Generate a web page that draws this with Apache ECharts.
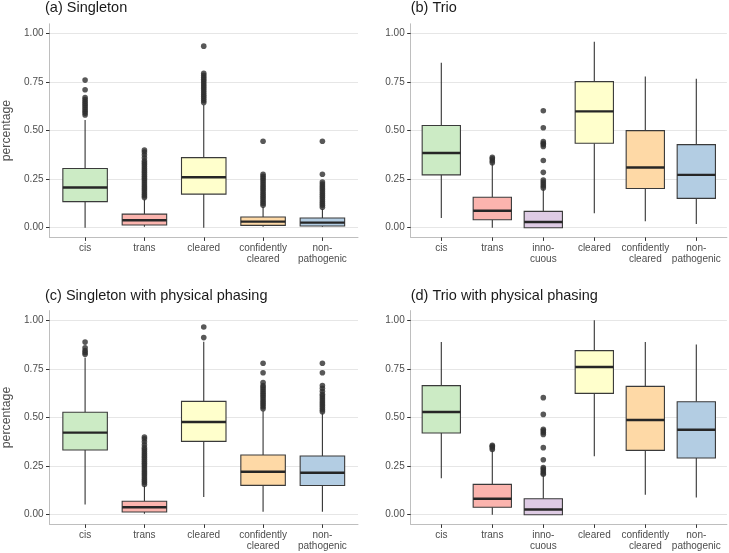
<!DOCTYPE html>
<html><head><meta charset="utf-8">
<script src="https://cdn.jsdelivr.net/npm/echarts@6/dist/echarts.min.js"></script>
<style>html,body{margin:0;padding:0;background:#fff}#c{width:729px;height:553px}</style>
</head><body><div id="c"></div>
<script>
// ---------------- data ----------------
const catsSingleton = ['cis', 'trans', 'cleared', 'confidently\ncleared', 'non-\npathogenic'];
const catsTrio = ['cis', 'trans', 'inno-\ncuous', 'cleared', 'confidently\ncleared', 'non-\npathogenic'];
const yTicks = [0, 0.25, 0.5, 0.75, 1];
const panelTitles = ['(a) Singleton', '(b) Trio', '(c) Singleton with physical phasing', '(d) Trio with physical phasing'];

// boxes: [lower whisker, Q1, median, Q3, upper whisker]
const boxA = [
  [0.000, 0.134, 0.207, 0.305, 0.555],
  [0.005, 0.014, 0.038, 0.070, 0.145],
  [0.000, 0.173, 0.260, 0.361, 0.632],
  [0.005, 0.012, 0.031, 0.055, 0.106],
  [0.005, 0.009, 0.026, 0.050, 0.096]
];
const outA = [
  [0.58, 0.59, 0.60, 0.61, 0.62, 0.63, 0.64, 0.65, 0.66, 0.67, 0.71, 0.76],
  [0.155, 0.165, 0.175, 0.185, 0.195, 0.205, 0.215, 0.225, 0.235, 0.245, 0.255, 0.265, 0.275, 0.285, 0.295, 0.305, 0.315, 0.325, 0.335, 0.345, 0.36, 0.375, 0.39, 0.40],
  [0.645, 0.655, 0.665, 0.675, 0.685, 0.695, 0.705, 0.715, 0.725, 0.735, 0.745, 0.755, 0.765, 0.775, 0.785, 0.795, 0.935],
  [0.115, 0.125, 0.135, 0.145, 0.155, 0.165, 0.175, 0.185, 0.195, 0.205, 0.215, 0.225, 0.235, 0.245, 0.255, 0.265, 0.275, 0.445],
  [0.105, 0.115, 0.125, 0.135, 0.145, 0.155, 0.165, 0.175, 0.185, 0.195, 0.205, 0.215, 0.225, 0.235, 0.275, 0.445]
];

const boxB = [
  [0.050, 0.272, 0.385, 0.526, 0.849],
  [0.000, 0.041, 0.087, 0.157, 0.330],
  [0.000, 0.000, 0.029, 0.084, 0.200],
  [0.075, 0.435, 0.599, 0.752, 0.957],
  [0.033, 0.202, 0.310, 0.500, 0.779],
  [0.019, 0.151, 0.272, 0.428, 0.767]
];
const outB = [
  [],
  [0.335, 0.345, 0.355, 0.362],
  [0.205, 0.215, 0.225, 0.235, 0.245, 0.285, 0.346, 0.418, 0.428, 0.435, 0.443, 0.515, 0.602],
  [],
  [],
  []
];

const boxC = [
  [0.053, 0.333, 0.422, 0.527, 0.808],
  [0.005, 0.014, 0.038, 0.069, 0.148],
  [0.091, 0.377, 0.477, 0.583, 0.890],
  [0.015, 0.151, 0.221, 0.307, 0.535],
  [0.015, 0.150, 0.216, 0.302, 0.522]
];
const outC = [
  [0.825, 0.835, 0.845, 0.859, 0.888],
  [0.155, 0.165, 0.175, 0.185, 0.195, 0.205, 0.215, 0.225, 0.235, 0.245, 0.255, 0.265, 0.275, 0.285, 0.295, 0.305, 0.315, 0.325, 0.335, 0.345, 0.36, 0.375, 0.39, 0.40],
  [0.911, 0.966],
  [0.545, 0.555, 0.565, 0.575, 0.585, 0.595, 0.605, 0.615, 0.625, 0.635, 0.645, 0.655, 0.665, 0.68, 0.73, 0.779],
  [0.53, 0.54, 0.55, 0.56, 0.57, 0.58, 0.59, 0.60, 0.61, 0.62, 0.635, 0.65, 0.665, 0.73, 0.779]
];

const boxD = [
  [0.187, 0.420, 0.528, 0.664, 0.888],
  [0.000, 0.038, 0.082, 0.156, 0.330],
  [0.000, 0.000, 0.027, 0.082, 0.200],
  [0.300, 0.624, 0.760, 0.844, 1.000],
  [0.103, 0.331, 0.487, 0.660, 0.888],
  [0.089, 0.292, 0.437, 0.581, 0.876]
];
const outD = [
  [],
  [0.336, 0.345, 0.352, 0.357],
  [0.208, 0.215, 0.225, 0.235, 0.242, 0.283, 0.345, 0.413, 0.423, 0.432, 0.439, 0.516, 0.602],
  [],
  [],
  []
];

// ---------------- styles ----------------
const palette = {
  'cis': '#CCEBC5', 'trans': '#FBB4AE', 'inno-\ncuous': '#DECBE4', 'cleared': '#FFFFCC',
  'confidently\ncleared': '#FED9A6', 'non-\npathogenic': '#B3CDE3'
};
const FONT = '"Liberation Sans", Arial, sans-serif';
const grids = [
  {left: 44.5, top: 23.8, width: 313.5, height: 213.6},
  {left: 410.7, top: 23.8, width: 316.2, height: 213.6},
  {left: 44.5, top: 310.6, width: 313.5, height: 213.8},
  {left: 410.7, top: 310.6, width: 316.2, height: 213.8}
];
const panels = [
  {cats: catsSingleton, boxes: boxA, outs: outA, ylab: true},
  {cats: catsTrio, boxes: boxB, outs: outB, ylab: false},
  {cats: catsSingleton, boxes: boxC, outs: outC, ylab: true},
  {cats: catsTrio, boxes: boxD, outs: outD, ylab: false}
];
const titlePos = [[45, 8.5], [410.7, 8.5], [45, 296.5], [410.7, 296.5]];

const xAxes = [], yAxes = [], series = [];
panels.forEach((p, i) => {
  const n = p.cats.length;
  const idxs = p.cats.map((c, k) => k);
  xAxes.push({
    type: 'value', gridIndex: i, min: -0.6, max: n - 0.4,
    axisLine: {show: true, onZero: false, lineStyle: {color: '#bebebe', width: 1}},
    axisTick: {show: true, customValues: idxs, length: 3.5, lineStyle: {color: '#333', width: 1}},
    axisLabel: {customValues: idxs, formatter: v => p.cats[Math.round(v)] || '', margin: 5,
      fontSize: 10, lineHeight: 11, color: '#4d4d4d', fontFamily: FONT},
    splitLine: {show: false}
  });
  yAxes.push({
    type: 'value', gridIndex: i, min: -0.05, max: 1.05,
    name: p.ylab ? 'percentage' : '', nameLocation: 'middle', nameGap: 36.5,
    nameTextStyle: {fontSize: 12.3, color: '#4d4d4d', fontFamily: FONT},
    axisLine: {show: true, onZero: false, lineStyle: {color: '#bebebe', width: 1}},
    axisTick: {show: true, customValues: yTicks, length: 3.5, lineStyle: {color: '#333', width: 1}},
    axisLabel: {customValues: yTicks, formatter: v => v.toFixed(2), margin: 6,
      fontSize: 10, color: '#4d4d4d', fontFamily: FONT},
    splitLine: {show: true, lineStyle: {color: '#e6e6e6', width: 1}}
  });
  series.push({
    type: 'custom', xAxisIndex: i, yAxisIndex: i, silent: true, animation: false,
    data: p.boxes.map((b, k) => [k].concat(b)),
    encode: {x: 0, y: [1, 2, 3, 4, 5]},
    renderItem: (params, api) => {
      const x = api.value(0);
      const lo = api.coord([x, api.value(1)]);
      const q1 = api.coord([x, api.value(2)]);
      const md = api.coord([x, api.value(3)]);
      const q3 = api.coord([x, api.value(4)]);
      const hi = api.coord([x, api.value(5)]);
      const w = api.size([1, 0])[0] * 0.75;
      const cx = lo[0];
      const fill = palette[p.cats[params.dataIndex]];
      return {type: 'group', children: [
        {type: 'line', shape: {x1: cx, y1: lo[1], x2: cx, y2: q1[1]}, style: {stroke: '#333', lineWidth: 1.1}},
        {type: 'line', shape: {x1: cx, y1: q3[1], x2: cx, y2: hi[1]}, style: {stroke: '#333', lineWidth: 1.1}},
        {type: 'rect', shape: {x: cx - w / 2, y: q3[1], width: w, height: q1[1] - q3[1]},
          style: {fill: fill, stroke: '#3a3a3a', lineWidth: 1.1}},
        {type: 'line', shape: {x1: cx - w / 2, y1: md[1], x2: cx + w / 2, y2: md[1]},
          style: {stroke: '#262626', lineWidth: 2.4}}
      ]};
    }
  });
  const pts = [];
  p.outs.forEach((arr, k) => arr.forEach(v => pts.push([k, v])));
  series.push({
    type: 'scatter', xAxisIndex: i, yAxisIndex: i, silent: true, animation: false,
    symbol: 'circle', symbolSize: 5.6, itemStyle: {color: '#2e2e2e'}, data: pts
  });
});

const chart = echarts.init(document.getElementById('c'), null, {renderer: 'canvas'});
chart.setOption({
  backgroundColor: '#ffffff',
  animation: false,
  grid: grids,
  xAxis: xAxes,
  yAxis: yAxes,
  series: series,
  graphic: panelTitles.map((t, i) => ({
    type: 'text', left: titlePos[i][0], top: titlePos[i][1] - 8,
    style: {text: t, fontSize: 14.5, fill: '#1a1a1a', fontFamily: FONT}
  }))
});
</script>
</body></html>
